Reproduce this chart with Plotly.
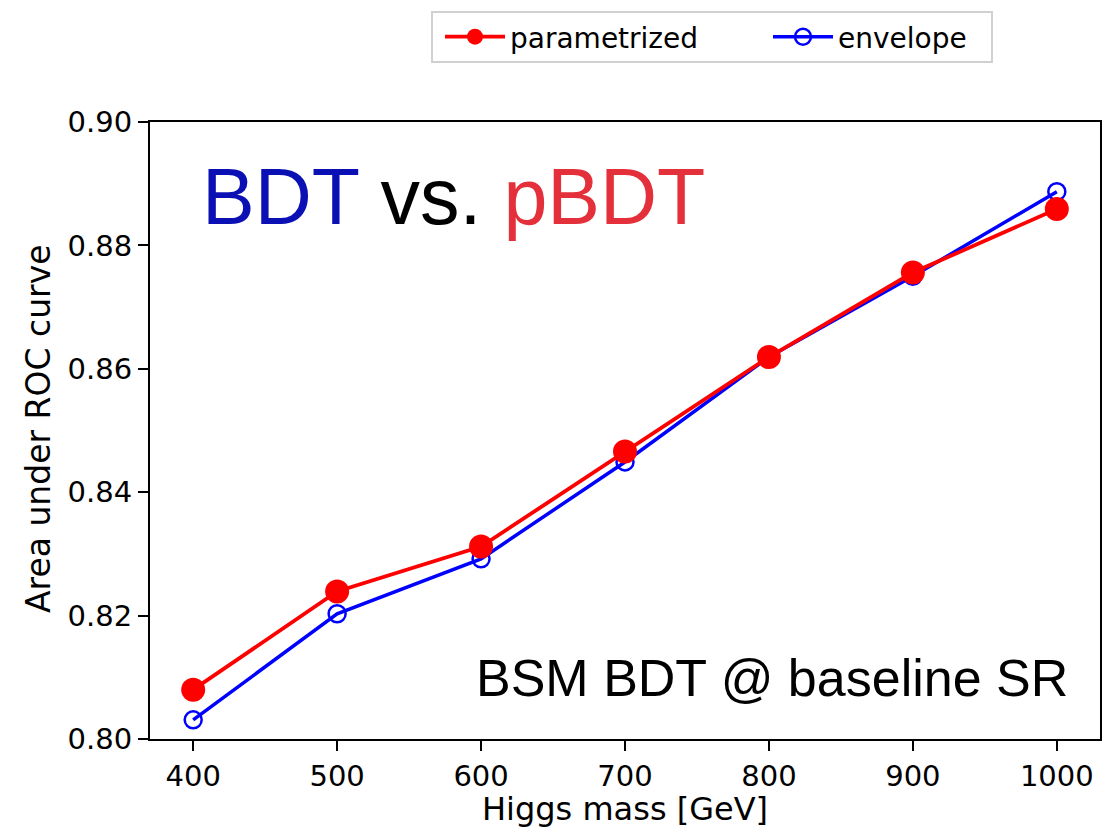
import plotly.graph_objects as go

masses = [400, 500, 600, 700, 800, 900, 1000]
parametrized = [0.8080, 0.8239, 0.8312, 0.8466, 0.8619, 0.8756, 0.8859]
envelope = [0.8031, 0.8203, 0.8292, 0.8449, 0.8619, 0.8750, 0.8887]
y_ticks = [0.80, 0.82, 0.84, 0.86, 0.88, 0.90]
x_ticks = [400, 500, 600, 700, 800, 900, 1000]

fig = go.Figure()
fig.add_trace(go.Scatter(
    x=masses, y=envelope, name="envelope", mode="lines+markers", legend="legend2",
    line=dict(color="#0000ff", width=3.5),
    marker=dict(symbol="circle-open", size=17, color="#0000ff", line=dict(width=2.5, color="#0000ff")),
))
fig.add_trace(go.Scatter(
    x=masses, y=parametrized, name="parametrized", mode="lines+markers", legend="legend",
    line=dict(color="#ff0000", width=3.8),
    marker=dict(symbol="circle", size=24, color="#ff0000"),
))

axis_common = dict(
    showgrid=False, zeroline=False, showline=True, linecolor="black", linewidth=2,
    mirror=True, ticks="outside", ticklen=10, tickwidth=2, tickcolor="black",
    tickfont=dict(family="DejaVu Sans", size=29, color="black"), automargin=False,
)

H = 617.0  # plot height in px
def py(p):
    return (739 - p) / H

def px(p):
    return (p - 150) / 950.0

leg_common = dict(orientation="h", yanchor="top", bgcolor="rgba(0,0,0,0)", borderwidth=0,
                  font=dict(family="DejaVu Sans", size=28, color="black"), itemwidth=60)

fig.update_layout(
    width=1110, height=829,
    margin=dict(l=150, r=10, t=122, b=90),
    paper_bgcolor="white", plot_bgcolor="white",
    font=dict(family="DejaVu Sans", color="black"),
    xaxis=dict(range=[370, 1030], tickvals=x_ticks, ticktext=[str(v) for v in x_ticks], **axis_common),
    yaxis=dict(range=[0.80, 0.90], tickvals=y_ticks, ticktext=["%.2f" % v for v in y_ticks], **axis_common),
    legend=dict(x=px(440), y=py(12), **leg_common),
    legend2=dict(x=px(768), y=py(12), **leg_common),
    showlegend=True,
)

fig.add_shape(type="rect", xref="paper", yref="paper",
              x0=px(432), x1=px(992), y0=py(62), y1=py(12),
              line=dict(color="#d0d0d0", width=2), fillcolor="rgba(0,0,0,0)", layer="below")

# axis titles
fig.add_annotation(
    xref="paper", yref="paper", x=px(625), y=py(809), xanchor="center", yanchor="middle",
    text="Higgs mass [GeV]", showarrow=False,
    font=dict(family="DejaVu Sans", size=32, color="black"),
)
fig.add_annotation(
    xref="paper", yref="paper", x=px(38), y=py(429), xanchor="center", yanchor="middle",
    text="Area under ROC curve", showarrow=False, textangle=-90,
    font=dict(family="DejaVu Sans", size=33, color="black"),
)

fig.add_annotation(
    xref="paper", yref="paper", x=0.053, y=0.88, xanchor="left", yanchor="middle",
    text='<span style="color:#0a10b4">BDT</span> vs. <span style="color:#e3303a">pBDT</span>',
    showarrow=False, font=dict(family="Liberation Sans", size=79, color="black"),
)
fig.add_annotation(
    xref="paper", yref="paper", x=0.9684, y=0.0985, xanchor="right", yanchor="middle",
    text="BSM BDT @ baseline SR",
    showarrow=False, font=dict(family="Liberation Sans", size=52, color="black"),
)

fig.write_html("out.html")
